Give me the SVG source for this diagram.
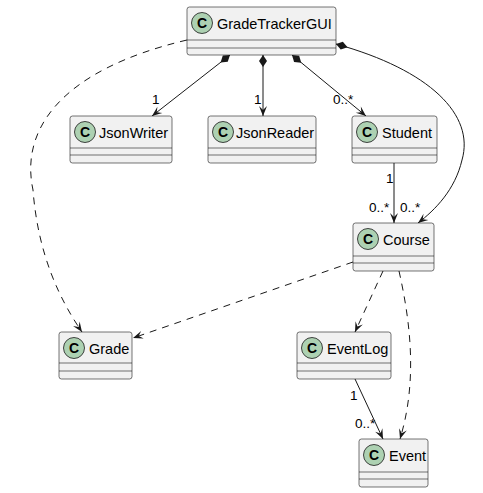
<svg xmlns="http://www.w3.org/2000/svg" width="483" height="493" viewBox="0 0 483 493">
<style>
.box{fill:#F1F1F1;stroke:#181818;stroke-width:0.6}
.sep{stroke:#181818;stroke-width:0.6}
.spot{fill:#ADD1B2;stroke:#181818;stroke-width:0.8}
.sl{font-family:"Liberation Sans",Arial,sans-serif;font-size:14px;font-weight:bold;fill:#000;text-anchor:middle}
.nm{font-family:"Liberation Sans",Arial,sans-serif;font-size:14.5px;fill:#000}
.lb{font-family:"Liberation Sans",Arial,sans-serif;font-size:13.5px;fill:#000}
.ln{fill:none;stroke:#181818;stroke-width:1}
.dash{stroke-dasharray:7,6}
</style>
<defs>
<marker id="arr" viewBox="-11 -5 12 10" refX="0" refY="0" markerWidth="12" markerHeight="10" markerUnits="userSpaceOnUse" orient="auto">
<path d="M0,0 L-10,-4 L-6,0 L-10,4 Z" fill="#181818"/>
</marker>
<marker id="dia" viewBox="-1 -5 14 10" refX="0" refY="0" markerWidth="14" markerHeight="10" markerUnits="userSpaceOnUse" orient="auto">
<path d="M0,0 L6,-4 L12,0 L6,4 Z" fill="#181818"/>
</marker>
</defs>
<g id="connectors">
<path class="ln" d="M230,55 L152,116" marker-start="url(#dia)" marker-end="url(#arr)"/>
<path class="ln" d="M263,55 L263,116" marker-start="url(#dia)" marker-end="url(#arr)"/>
<path class="ln" d="M292,55 L366,116" marker-start="url(#dia)" marker-end="url(#arr)"/>
<path class="ln" d="M336,44 C430,70 475,115 462,160 C455,190 435,210 418,223" marker-start="url(#dia)" marker-end="url(#arr)"/>
<path class="ln" d="M394,163 L394,223" marker-end="url(#arr)"/>
<path class="ln dash" d="M187,40 C60,70 20,130 33,190 C38,255 60,300 82,332" marker-end="url(#arr)"/>
<path class="ln dash" d="M353,262 L133,338" marker-end="url(#arr)"/>
<path class="ln dash" d="M383,271 L355,332" marker-end="url(#arr)"/>
<path class="ln dash" d="M399,271 C410,320 418,380 400,439" marker-end="url(#arr)"/>
<path class="ln" d="M355,379 L383,439" marker-end="url(#arr)"/>
<text class="lb" x="152" y="104">1</text>
<text class="lb" x="254" y="104">1</text>
<text class="lb" x="333" y="104">0..*</text>
<text class="lb" x="386" y="183">1</text>
<text class="lb" x="369" y="212">0..*</text>
<text class="lb" x="400" y="212">0..*</text>
<text class="lb" x="350" y="400">1</text>
<text class="lb" x="355" y="428">0..*</text>
</g>
<g id="GradeTrackerGUI">
<rect class="box" x="187" y="7" width="149" height="48" rx="2.5"/>
<line class="sep" x1="187" y1="40" x2="336" y2="40"/><line class="sep" x1="187" y1="48" x2="336" y2="48"/>
<circle class="spot" cx="202" cy="23" r="10.5"/><text class="sl" x="202" y="28">C</text>
<text class="nm" x="217" y="29">GradeTrackerGUI</text>
</g>
<g id="JsonWriter">
<rect class="box" x="70" y="116" width="102" height="47" rx="2.5"/>
<line class="sep" x1="70" y1="148" x2="172" y2="148"/><line class="sep" x1="70" y1="155" x2="172" y2="155"/>
<circle class="spot" cx="85" cy="132" r="10.5"/><text class="sl" x="85" y="137">C</text>
<text class="nm" x="99" y="138">JsonWriter</text>
</g>
<g id="JsonReader">
<rect class="box" x="208" y="116" width="108" height="47" rx="2.5"/>
<line class="sep" x1="208" y1="148" x2="316" y2="148"/><line class="sep" x1="208" y1="155" x2="316" y2="155"/>
<circle class="spot" cx="223" cy="132" r="10.5"/><text class="sl" x="223" y="137">C</text>
<text class="nm" x="236" y="138">JsonReader</text>
</g>
<g id="Student">
<rect class="box" x="352" y="116" width="85" height="47" rx="2.5"/>
<line class="sep" x1="352" y1="148" x2="437" y2="148"/><line class="sep" x1="352" y1="155" x2="437" y2="155"/>
<circle class="spot" cx="367" cy="132" r="10.5"/><text class="sl" x="367" y="137">C</text>
<text class="nm" x="382" y="138">Student</text>
</g>
<g id="Course">
<rect class="box" x="353" y="223" width="81" height="48" rx="2.5"/>
<line class="sep" x1="353" y1="256" x2="434" y2="256"/><line class="sep" x1="353" y1="263" x2="434" y2="263"/>
<circle class="spot" cx="368" cy="239" r="10.5"/><text class="sl" x="368" y="244">C</text>
<text class="nm" x="383" y="245">Course</text>
</g>
<g id="Grade">
<rect class="box" x="59" y="332" width="73" height="47" rx="2.5"/>
<line class="sep" x1="59" y1="363" x2="132" y2="363"/><line class="sep" x1="59" y1="371" x2="132" y2="371"/>
<circle class="spot" cx="74" cy="348" r="10.5"/><text class="sl" x="74" y="353">C</text>
<text class="nm" x="89" y="354">Grade</text>
</g>
<g id="EventLog">
<rect class="box" x="297" y="332" width="94" height="47" rx="2.5"/>
<line class="sep" x1="297" y1="363" x2="391" y2="363"/><line class="sep" x1="297" y1="371" x2="391" y2="371"/>
<circle class="spot" cx="312" cy="348" r="10.5"/><text class="sl" x="312" y="353">C</text>
<text class="nm" x="327" y="354">EventLog</text>
</g>
<g id="Event">
<rect class="box" x="359" y="439" width="69" height="48" rx="2.5"/>
<line class="sep" x1="359" y1="472" x2="428" y2="472"/><line class="sep" x1="359" y1="479" x2="428" y2="479"/>
<circle class="spot" cx="374" cy="455" r="10.5"/><text class="sl" x="374" y="460">C</text>
<text class="nm" x="389" y="461">Event</text>
</g>
</svg>
